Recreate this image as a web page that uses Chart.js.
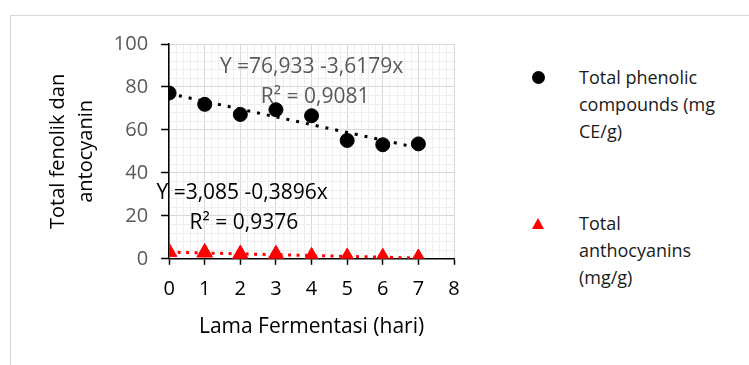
<!DOCTYPE html>
<html>
<head>
<meta charset="utf-8">
<script src="https://cdn.jsdelivr.net/npm/chart.js@4.4.1/dist/chart.umd.min.js"></script>
<style>
  html, body { margin: 0; padding: 0; background: #fff; }
  body { width: 749px; height: 365px; position: relative; overflow: hidden; font-family: 'Open Sans', sans-serif; }
  .frame { position: absolute; left: 10px; top: 15px; width: 800px; height: 400px; border: 1px solid #d9d9d9; }
  .wrap { position: absolute; left: 0; top: 0; width: 480px; height: 365px; }
  .legend { position: absolute; left: 0; top: 0; }
  .item { position: absolute; left: 579px; font-size: 18px; line-height: 27px; color: #1a1a1a; width: 170px; }
  .dot { position: absolute; width: 13px; height: 13px; border-radius: 50%; background: #000; }
  .tri { position: absolute; width: 0; height: 0; border-left: 6px solid transparent; border-right: 6px solid transparent; border-bottom: 11px solid #ff0000; }
</style>
</head>
<body>
<div class="frame"></div>
<div class="wrap"><canvas id="chart"></canvas></div>
<div class="legend" id="legend"></div>
<script>
// hari fermentasi
const days = [0, 1, 2, 3, 4, 5, 6, 7];
const phenolic = [77.2, 71.9, 67.2, 69.4, 66.6, 55.1, 53.1, 53.5];
const anthocyanin = [3.2, 2.9, 2.2, 2.1, 1.1, 0.8, 0.7, 0.4];
// trendline coefficients shown on the chart
const phenolicFit = [76.933, -3.6179];
const anthoFit = [3.085, -0.3896];
const seriesLabels = ['Total phenolic compounds (mg CE/g)', 'Total anthocyanins (mg/g)'];
const eqText = [
  ['Y =76,933 -3,6179x', 'R\u00b2 = 0,9081'],
  ['Y =3,085 -0,3896x', 'R\u00b2 = 0,9376']
];

const pts = (ys) => days.map((d, i) => ({ x: d, y: ys[i] }));
const fitLine = (c) => [0, days[days.length - 1]].map(x => ({ x: x, y: c[0] + c[1] * x }));
const isMajor = (v, step) => Math.abs(v / step - Math.round(v / step)) < 1e-6;

// equation labels, anchored in data units
const eqLabels = {
  id: 'eqLabels',
  afterDatasetsDraw(chart) {
    const { ctx, scales: { x, y } } = chart;
    const spots = [
      { lines: eqText[0], at: [[4.0, 89.5], [4.1, 75.2]], color: '#595959' },
      { lines: eqText[1], at: [[2.05, 30.8], [2.1, 16.8]], color: '#000' }
    ];
    ctx.save();
    ctx.font = '21px "Open Sans"';
    ctx.textAlign = 'center';
    ctx.textBaseline = 'middle';
    spots.forEach(s => {
      ctx.fillStyle = s.color;
      s.lines.forEach((t, i) => {
        ctx.fillText(t, x.getPixelForValue(s.at[i][0]), y.getPixelForValue(s.at[i][1]));
      });
    });
    ctx.restore();
  }
};

new Chart(document.getElementById('chart'), {
  type: 'scatter',
  data: {
    datasets: [
      {
        label: seriesLabels[0],
        data: pts(phenolic),
        backgroundColor: '#000',
        borderColor: '#000',
        pointRadius: 7,
        pointHoverRadius: 7,
        order: 1
      },
      {
        label: seriesLabels[1],
        data: pts(anthocyanin),
        backgroundColor: '#ff0000',
        borderColor: '#ff0000',
        pointStyle: 'triangle',
        pointRadius: 9,
        pointHoverRadius: 9,
        order: 1
      },
      {
        type: 'line',
        data: fitLine(phenolicFit),
        borderColor: '#000',
        borderWidth: 3,
        borderDash: [3, 7],
        pointRadius: 0,
        fill: false,
        order: 2
      },
      {
        type: 'line',
        data: fitLine(anthoFit),
        borderColor: '#ff0000',
        borderWidth: 3,
        borderDash: [3, 5.5],
        pointRadius: 0,
        fill: false,
        order: 2
      }
    ]
  },
  options: {
    responsive: true,
    maintainAspectRatio: false,
    animation: false,
    layout: { padding: { top: 44, right: 26, left: 44, bottom: 25 } },
    plugins: {
      legend: { display: false },
      tooltip: { enabled: false }
    },
    scales: {
      x: {
        type: 'linear',
        min: 0,
        max: 8,
        border: { color: '#000', width: 1.5 },
        grid: {
          color: (c) => isMajor(c.tick.value, 1) ? '#d9d9d9' : '#eeeeee',
          lineWidth: 1,
          tickLength: 6,
          tickColor: (c) => isMajor(c.tick.value, 1) ? '#000' : 'rgba(0,0,0,0)',
          tickWidth: 1.5
        },
        ticks: {
          stepSize: 0.2,
          autoSkip: false,
          maxRotation: 0,
          padding: 12,
          color: '#000',
          font: { family: 'Open Sans', size: 20 },
          callback: (v) => isMajor(v, 1) ? String(Math.round(v)) : ''
        },
        title: {
          display: true,
          text: 'Lama Fermentasi (hari)',
          color: '#000',
          font: { family: 'Open Sans', size: 21 },
          padding: { top: 2, bottom: 0 }
        }
      },
      y: {
        min: 0,
        max: 100,
        border: { color: '#000', width: 1.5 },
        grid: {
          color: (c) => isMajor(c.tick.value, 20) ? '#d9d9d9' : '#eeeeee',
          lineWidth: 1,
          tickLength: 8,
          tickColor: (c) => isMajor(c.tick.value, 20) ? '#000' : 'rgba(0,0,0,0)',
          tickWidth: 1.5
        },
        ticks: {
          stepSize: 4,
          autoSkip: false,
          padding: 13,
          color: '#595959',
          font: { family: 'Open Sans', size: 20 },
          callback: (v) => isMajor(v, 20) ? String(Math.round(v)) : ''
        },
        title: {
          display: true,
          text: ['Total fenolik dan', 'antocyanin'],
          color: '#000',
          font: { family: 'Open Sans', size: 20, lineHeight: 1.42 },
          padding: { top: 0, bottom: 0 }
        }
      }
    }
  },
  plugins: [eqLabels]
});

// legend beside the plot
const legend = document.getElementById('legend');
const legendRows = [
  { marker: 'dot', top: 64, lines: ['Total phenolic', 'compounds (mg', 'CE/g)'], mx: 532, my: 71 },
  { marker: 'tri', top: 210, lines: ['Total', 'anthocyanins', '(mg/g)'], mx: 532, my: 218 }
];
legendRows.forEach(r => {
  const m = document.createElement('div');
  m.className = r.marker;
  m.style.left = r.mx + 'px';
  m.style.top = r.my + 'px';
  legend.appendChild(m);
  const t = document.createElement('div');
  t.className = 'item';
  t.style.top = r.top + 'px';
  t.innerHTML = r.lines.join('<br>');
  legend.appendChild(t);
});
</script>
</body>
</html>
